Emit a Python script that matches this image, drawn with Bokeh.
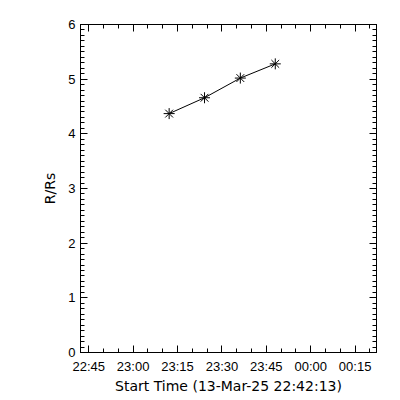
import pandas as pd
from bokeh.plotting import figure
from bokeh.models import (Range1d, FixedTicker, DatetimeTickFormatter, LinearAxis,
                          DatetimeAxis, SingleIntervalTicker, ColumnDataSource,
                          CustomJSTickFormatter)
from bokeh.embed import file_html
from bokeh.resources import INLINE

# ---- data ----
base_date = "2025-03-13"
start_time = "22:42:13"
end_time = "00:22:13"
times = ["23:12:10", "23:24:07", "23:36:13", "23:48:01"]
r_rs = [4.37, 4.66, 5.02, 5.28]
tick_labels = ["22:45", "23:00", "23:15", "23:30", "23:45", "00:00", "00:15"]
y_ticks = [0, 1, 2, 3, 4, 5, 6]
x_title = "Start Time (13-Mar-25 22:42:13)"
y_title = "R/Rs"


def to_ms(t):
    ts = pd.Timestamp(f"{base_date} {t}")
    if ts.hour < 12:
        ts += pd.Timedelta(days=1)
    return ts.value / 1e6


xs = [to_ms(t) for t in times]
x0, x1 = to_ms(start_time), to_ms(end_time)
major = [to_ms(t) for t in tick_labels]
step = (major[1] - major[0]) / 3.0
minor = []
v = major[0]
while v <= x1:
    minor.append(v)
    v += step

src = ColumnDataSource(dict(x=xs, y=r_rs))

TICK_FONT = "Liberation Sans"
TICK_FS = "13px"
TITLE_FONT = "DejaVu Sans"
TITLE_FS = "14px"

p = figure(x_axis_type="datetime", x_range=Range1d(x0, x1), y_range=Range1d(y_ticks[0], y_ticks[-1]),
           frame_width=296, frame_height=328, min_border_left=80, min_border_right=16,
           min_border_top=24, min_border_bottom=44, output_backend="svg",
           toolbar_location=None, background_fill_color="white", border_fill_color="white")
p.grid.visible = False
p.outline_line_color = "black"

hm = "%H:%M"
fmt = DatetimeTickFormatter(microseconds=hm, milliseconds=hm, seconds=hm, minsec=hm,
                            minutes=hm, hourmin=hm, hours=hm, days=hm, months=hm, years=hm)
blank = CustomJSTickFormatter(code="return ''")
xt = FixedTicker(ticks=major, minor_ticks=minor)
yt = SingleIntervalTicker(interval=1, num_minor_ticks=10)


def style(ax, show):
    ax.axis_line_color = "black"
    ax.major_tick_line_color = "black"
    ax.minor_tick_line_color = "black"
    ax.major_tick_in = 7
    ax.major_tick_out = 0
    ax.minor_tick_in = 4
    ax.minor_tick_out = 0
    if show:
        ax.major_label_text_font = TICK_FONT
        ax.major_label_text_font_size = TICK_FS
        ax.major_label_text_color = "black"
        ax.axis_label_text_font = TITLE_FONT
        ax.axis_label_text_font_size = TITLE_FS
        ax.axis_label_text_font_style = "normal"
        ax.axis_label_text_color = "black"
        ax.major_label_standoff = 6
        ax.axis_label_standoff = 1
    else:
        ax.formatter = blank
        ax.major_label_standoff = 0


bx = p.xaxis[0]
bx.ticker = xt
bx.formatter = fmt
bx.axis_label = x_title
style(bx, True)

ly = p.yaxis[0]
ly.ticker = yt
ly.axis_label = y_title
style(ly, True)
ly.major_label_standoff = 5
ly.axis_label_standoff = 7

top = DatetimeAxis(ticker=xt)
style(top, False)
p.add_layout(top, "above")
right = LinearAxis(ticker=yt)
style(right, False)
p.add_layout(right, "right")

p.line("x", "y", source=src, line_color="black", line_width=1)
p.scatter("x", "y", source=src, marker="asterisk", size=11, line_color="black", line_width=1)

open("out.html", "w").write(file_html(p, INLINE))
